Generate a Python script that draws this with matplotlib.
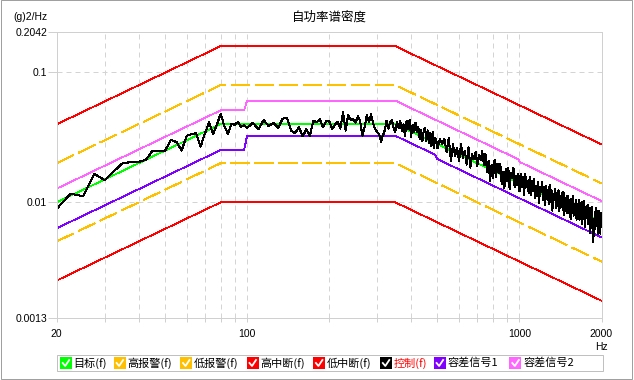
import numpy as np
import matplotlib
matplotlib.use('Agg')
import matplotlib.pyplot as plt
from matplotlib.patches import Rectangle
from matplotlib.lines import Line2D

plt.rcParams['font.family'] = ['Noto Sans CJK SC', 'DejaVu Sans']

# profile breakpoints (Hz, g^2/Hz)
freq_bp = [20, 80, 350, 2000]
target_bp = [0.01, 0.04, 0.04, 0.007]
high_abort = [0.0398, 0.159, 0.159, 0.0279]
high_alarm = [0.02, 0.0798, 0.0798, 0.014]
low_alarm = [0.005, 0.02, 0.02, 0.0035]
low_abort = [0.0025, 0.01, 0.01, 0.00175]

# tolerance lines (容差信号)
tol_hi_f = [20, 80, 97.5, 100, 350, 990, 1000, 2000]
tol_hi_v = [0.01274, 0.051, 0.051, 0.06054, 0.06054, 0.02141, 0.02047, 0.01023]
tol_lo_f = [20, 80, 97.5, 100, 350, 490, 500, 2000]
tol_lo_v = [0.00631, 0.02524, 0.02524, 0.0325, 0.0325, 0.02323, 0.02148, 0.00537]

# control spectrum, deviation from target in dB
dev_a = [-0.5, 0.15, -0.5, 0.8, -0.05, 0.3, 0.6, 0.35, 0.1, 0.0,
         0.45, 0.2, 0.0, 0.6, 0.25, -0.6, 0.35, 0.3, 0.2, -1.0,
         -0.15, 0.55, -0.5, 0.1, 0.8, -0.15, -0.75, 0.0, -0.05, 0.15,
         -0.2, -0.1]                                   # 20 .. 97.5 Hz, 2.5 Hz step
dev_b = [-0.3, 0.1, -0.4, 0.3, -0.15, 0.1, -0.3, 0.4, 0.5, -0.5,
         -0.7, -0.25, -0.95, -0.4, -0.9, 0.25, 0.15, 0.35, -0.25, 0.2,
         0.25, -0.4, -0.05, 0.15, -0.35, 0.9, -0.5, 0.7, 0.3, 0.4,
         0.1, 0.6, 0.25, -0.9, -0.25, 0.7, 0.15, 0.75, 0.1, -0.4,
         -0.6, -0.75, -1.35, -0.9, -0.5, 0.25, -0.35, 0.15, 0.3, -0.3,
         -0.6, 0.25, -0.2, 0.4, -0.3, 0.27, -0.55, 0.65, 0.1, 0.85,
         -0.4, 0.55, 0.1, 0.85, 0.15, 0.6, -0.25, 0.5, -0.35, 0.5,
         0.8, -0.15, 0.7, -0.25, 0.6, -0.35, 0.75, -0.45, 0.4, 0.2]   # 100 .. 495 Hz, 5 Hz step
dev_c = [-0.3, 0.5, 0.2, 0.65, -0.3, 0.9, -0.8, 0.55, -0.25, 0.45,
         -0.5, 0.85, -0.1, 0.5, -0.5, 0.9, -0.6, 0.5, 0.2, 0.8,
         -0.2, 0.7, 0.35, 1.1, 0.1, 1.0, -0.3, 0.6, -0.9, 0.4,
         -0.6, 0.9, -0.4, 0.7, 0.0, 0.8, -0.7, 0.3, -0.95, 0.6,
         -0.3, 0.75, -0.8, 0.5, 0.1, 0.95, -0.5, 0.45, -0.2, 0.7,
         -0.6, 0.8, -0.2, 0.6, -0.7, 0.9, 0.0, 0.5, -0.4, 0.85,
         -0.5, 0.6, -0.1, 0.9, -0.6, 0.4, -0.3, 0.75, -0.8, 0.5,
         0.1, 0.9, -0.4, 0.6, -0.75, 0.8, -0.2, 0.55, -0.5, 1.0,
         -0.3, 0.7, -0.9, 0.4, 0.0, 0.85, -0.6, 0.65, -0.35, 0.9,
         -0.7, 0.5, -0.1, 0.8, -0.45, 0.95, -0.8, 0.4, 0.15, 0.75,
         -0.55, 0.85, -0.25, 0.6, -0.9, 0.7, -0.3, 1.0, -0.5, 0.45,
         -0.1, 0.8, -0.7, 0.55, -0.35, 0.9, -0.6, 0.3, -0.2, 0.85,
         -0.8, 0.6, -0.4, 1.0, -0.95, 0.45, -0.2, 0.75, -0.6, 0.9,
         -0.3, 0.7, -1.2, 0.5, -0.5, 0.85, -1.8, -0.6, -1.3, 0.6,
         -0.7, 0.9, -0.4, 0.55, -1.0, 0.8, -0.6, 0.45, -0.9, 0.7,
         -0.2]                                          # 500 .. 2000 Hz, 10 Hz step

ctrl_f = np.concatenate([np.arange(20, 98, 2.5), np.arange(100, 496, 5.0), np.arange(500, 2001, 10.0)])
ctrl_dev = np.array(dev_a + dev_b + dev_c)
tgt_at = 10 ** np.interp(np.log10(ctrl_f), np.log10(freq_bp), np.log10(target_bp))
ctrl_v = tgt_at * 10 ** (ctrl_dev / 10)

legend_items = ['目标(f)', '高报警(f)', '低报警(f)', '高中断(f)', '低中断(f)', '控制(f)', '容差信号1', '容差信号2']
legend_colors = ['#00ff00', '#ffc000', '#ffc000', '#ff0000', '#ff0000', '#000000', '#8000ff', '#ff66ff']

W, H = 634, 380
fig = plt.figure(figsize=(W / 100, H / 100), dpi=100)
def fx(x): return x / W
def fy(y): return 1 - y / H

ax = fig.add_axes([fx(56.7), fy(317.5), (601.5 - 56.7) / W, (317.5 - 32) / H])
ax.set_xscale('log')
ax.set_yscale('log')

px = 0.72  # one pixel in points
kw = dict(lw=0.6, antialiased=False)
ax.plot(freq_bp, high_abort, color='#ff0000', **kw)
ax.plot(freq_bp, low_abort, color='#ff0000', **kw)
ax.plot(freq_bp, high_alarm, color='#ffc000', dashes=(22, 7), **kw)
ax.plot(freq_bp, low_alarm, color='#ffc000', dashes=(22, 7), **kw)
ax.plot(tol_hi_f, tol_hi_v, color='#ff66ff', **kw)
ax.plot(tol_lo_f, tol_lo_v, color='#8000ff', **kw)
ax.plot(freq_bp, target_bp, color='#00ff00', **kw)
ax.plot(ctrl_f, ctrl_v, color='black', lw=0.75, antialiased=False)

ax.set_xlim(20, 2000)
ax.set_ylim(0.0013, 0.2042)
ax.set_xticks([20, 100, 1000, 2000])
ax.set_xticklabels(['20', '100', '1000', '2000'])
ax.set_xticks([30, 40, 50, 60, 70, 80, 90, 200, 300, 400, 500, 600, 700, 800, 900], minor=True)
ax.xaxis.set_minor_formatter(matplotlib.ticker.NullFormatter())
ax.set_yticks([0.0013, 0.01, 0.1, 0.2042])
ax.set_yticklabels(['0.0013', '0.01', '0.1', '0.2042'])
ax.yaxis.set_minor_locator(matplotlib.ticker.NullLocator())
ax.grid(True, which='both', axis='x', color='#d4d4d4', lw=px, dashes=(5, 4))
ax.grid(True, which='major', axis='y', color='#d4d4d4', lw=px, dashes=(5, 4))
ax.tick_params(axis='x', which='both', length=3, width=px, color='#d0d0d0', pad=5,
               labelsize=7.5, labelfontfamily='Liberation Sans')
ax.tick_params(axis='y', length=6.3, width=px, color='#d0d0d0', pad=0.5,
               labelsize=7.5, labelfontfamily='Liberation Sans')
for s in ax.spines.values():
    s.set_color('#d0d0d0')
    s.set_linewidth(px)

fig.text(fx(329), fy(17), '自功率谱密度', ha='center', va='center', fontsize=9)
fig.text(fx(13), fy(17.5), '(g)2/Hz', ha='left', va='center', fontsize=7.5, family='Liberation Sans')
fig.text(fx(601), fy(347), 'Hz', ha='center', va='center', fontsize=7.5, family='Liberation Sans')

# legend box with check icons
fig.patches.append(Rectangle((fx(57), fy(371)), fx(603) - fx(57), fy(355) - fy(371),
                             transform=fig.transFigure, fill=False, ec='#c0c0c0', lw=px))
icon_x = [58.7, 112.6, 179, 245.5, 311.9, 378.8, 432.6, 508.3]
yc = 363
for x0, lab, col in zip(icon_x, legend_items, legend_colors):
    fig.patches.append(Rectangle((fx(x0 + 1), fy(yc + 6)), 12 / W, 12 / H, transform=fig.transFigure,
                                 fc=col, ec='none', antialiased=False))
    fig.lines.append(Line2D([fx(x0 + 4), fx(x0 + 6.5), fx(x0 + 10.5)],
                            [fy(yc), fy(yc + 3), fy(yc - 3)], transform=fig.transFigure,
                            color='white', lw=1.3))
    fig.text(fx(x0 + 15), fy(yc), lab, ha='left', va='center', fontsize=8,
             color='red' if lab == '控制(f)' else 'black')

fig.patches.append(Rectangle((fx(0.5), fy(378.5)), fx(632) - fx(0.5), fy(0.5) - fy(378.5),
                             transform=fig.transFigure, fill=False, ec='#a0a0a0', lw=px))

fig.savefig('out.png', dpi=100)
